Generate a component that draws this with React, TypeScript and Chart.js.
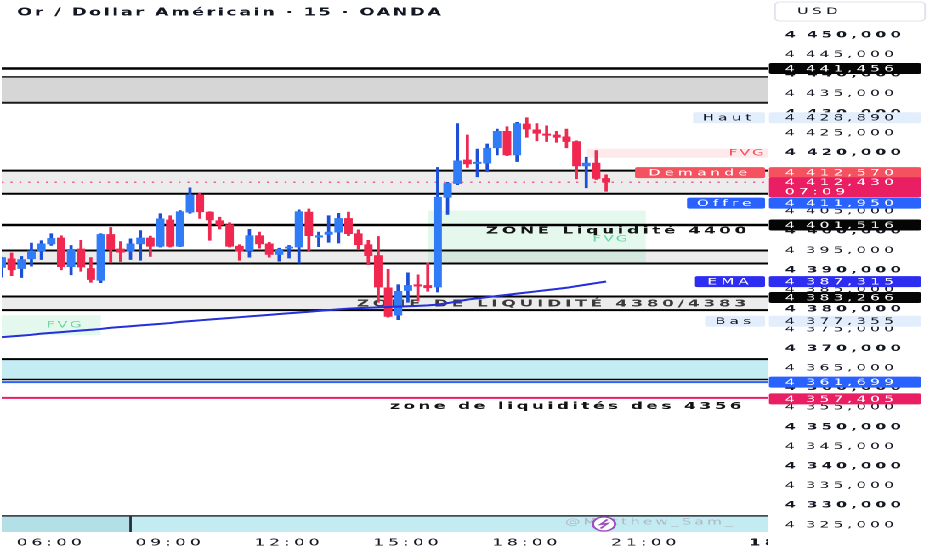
import React, { useEffect, useRef } from 'react';
import { Chart, registerables } from 'chart.js';

Chart.register(...registerables);

// the screenshot is squeezed vertically, so the chart is drawn narrow and stretched sideways
const STRETCH = 1.7;
const WIDTH = 932 / STRETCH;
const HEIGHT = 550;
const fx = (px: number) => px / STRETCH;
const FONT = '"DejaVu Sans", sans-serif';

const title = 'Or / Dollar Américain · 15 · OANDA';

// 15 minute bars
const firstBar = '04:45';
const barMinutes = 15;
const viewStart = '04:45';
const viewEnd = '24:05';

const opens = [
  4390.7, 4392.9, 4390.4, 4392.9, 4394.9, 4396.7, 4398.2, 4390.9, 4395.4, 4390.4,
  4387.4, 4399.1, 4395.4, 4394.8, 4396.7, 4398.2, 4396.1, 4402.8, 4396.1, 4404.8,
  4409.2, 4404.8, 4402.6, 4401.6, 4396.1, 4395.0, 4398.8, 4396.7, 4394.0, 4395.6,
  4395.9, 4404.8, 4398.4, 4399.1, 4399.7, 4403.2, 4399.3, 4396.5, 4393.7, 4385.5,
  4378.5, 4384.8, 4386.3, 4386.1, 4385.7, 4408.6, 4412.1, 4418.1, 4417.2, 4417.3,
  4421.2, 4425.4, 4419.4, 4427.3, 4425.8, 4424.7, 4424.5, 4424.0, 4422.8, 4416.6,
  4417.3, 4413.4,
];
const highs = [
  4393.3, 4394.4, 4393.5, 4396.9, 4397.5, 4399.3, 4398.8, 4396.3, 4397.6, 4393.2,
  4399.3, 4400.9, 4397.3, 4398.0, 4400.1, 4398.7, 4404.4, 4403.9, 4405.2, 4411.0,
  4409.7, 4404.9, 4403.5, 4402.1, 4396.5, 4400.4, 4399.7, 4397.1, 4395.6, 4396.3,
  4405.4, 4405.6, 4399.7, 4403.9, 4404.5, 4404.8, 4400.3, 4397.6, 4398.6, 4390.2,
  4386.3, 4389.3, 4388.8, 4391.8, 4416.2, 4412.4, 4427.4, 4424.5, 4420.9, 4422.2,
  4426.0, 4426.6, 4427.7, 4428.89, 4427.4, 4426.8, 4425.4, 4426.0, 4423.0, 4418.8,
  4420.5, 4414.3,
];
const lows = [
  4388.2, 4388.6, 4388.1, 4391.0, 4392.7, 4396.3, 4390.1, 4388.8, 4389.7, 4386.9,
  4386.8, 4391.9, 4392.2, 4392.7, 4392.5, 4393.5, 4395.9, 4395.9, 4396.0, 4404.5,
  4403.2, 4397.6, 4400.5, 4395.9, 4392.5, 4393.3, 4395.6, 4393.3, 4392.3, 4393.1,
  4391.8, 4395.0, 4396.0, 4397.1, 4396.9, 4398.8, 4395.2, 4391.4, 4381.8, 4378.0,
  4377.355, 4381.8, 4382.1, 4384.6, 4384.4, 4404.2, 4411.8, 4416.2, 4413.8, 4415.1,
  4419.4, 4419.2, 4417.7, 4423.9, 4423.0, 4422.8, 4422.6, 4421.2, 4413.3, 4411.0,
  4413.1, 4410.1,
];
const closes = [
  4393.2, 4390.1, 4392.7, 4394.9, 4396.7, 4398.1, 4390.9, 4395.3, 4390.8, 4387.6,
  4399.1, 4395.4, 4394.6, 4396.7, 4398.2, 4396.1, 4403.1, 4396.1, 4404.9, 4409.2,
  4404.9, 4402.8, 4401.6, 4396.1, 4394.8, 4398.8, 4396.7, 4394.0, 4395.3, 4395.9,
  4404.9, 4398.8, 4398.8, 4399.7, 4403.2, 4399.3, 4396.5, 4393.7, 4385.7, 4378.2,
  4384.6, 4386.1, 4385.9, 4385.5, 4408.6, 4412.1, 4417.9, 4417.1, 4417.5, 4421.1,
  4425.4, 4419.4, 4427.4, 4426.0, 4424.9, 4424.4, 4423.9, 4422.8, 4416.6, 4417.3,
  4413.4, 4412.43,
];
const ema = [
  4372.9, 4373.1, 4373.3, 4373.5, 4373.8, 4374.0, 4374.2, 4374.4, 4374.6, 4374.8,
  4375.0, 4375.3, 4375.5, 4375.7, 4375.9, 4376.1, 4376.3, 4376.5, 4376.8, 4377.0,
  4377.2, 4377.4, 4377.6, 4377.8, 4378.0, 4378.2, 4378.4, 4378.6, 4378.8, 4379.0,
  4379.2, 4379.4, 4379.6, 4379.8, 4380.0, 4380.2, 4380.3, 4380.4, 4380.5, 4380.6,
  4380.7, 4380.8, 4380.9, 4381.0, 4381.2, 4381.6, 4382.0, 4382.5, 4382.8, 4383.1,
  4383.4, 4383.7, 4384.0, 4384.3, 4384.6, 4384.9, 4385.2, 4385.5, 4385.9, 4386.3,
  4386.7, 4387.1,
];

const tickTimes = ['06:00', '09:00', '12:00', '15:00', '18:00', '21:00', '24:00'];
const tickLabels = ['06:00', '09:00', '12:00', '15:00', '18:00', '21:00', '18'];
const priceMin = 4323.2;
const priceMax = 4458.66;
const priceStep = 5;

// drawn levels and zones
const lastPrice = 4412.43;
const askPrice = 4412.57;
const bidPrice = 4411.95;
const countdown = '07:09';
const dayHigh = 4428.89;
const dayLow = 4377.355;
const emaLast = 4387.315;
const topLine = 4441.456;
const topZone = [4439.3, 4432.7];
const demandZone = [4415.4, 4409.5];
const line4400 = 4401.516;
const zone4400 = [4395.0, 4391.7];
const zone4380 = [4383.266, 4379.8];
const cyanZone = [4367.3, 4362.1];
const cyanLine = 4361.699;
const line4356 = 4357.405;
const stripTop = 4327.3;
const sessionBreak = '08:00';
const fvgMain = { from: '15:30', to: '21:00', top: 4405.2, bottom: 4392.0 };
const fvgLeft = { from: '04:45', to: '07:15', top: 4378.5, bottom: 4373.4 };
const fvgHigh = { from: '19:30', top: 4421.0, bottom: 4418.7 };

const toMin = (t: string) => {
  const [h, m] = t.split(':').map(Number);
  return h * 60 + m;
};
const times = opens.map((_, i) => toMin(firstBar) + i * barMinutes);

const fmtPrice = (v: number) => {
  const [int, dec] = v.toFixed(3).split('.');
  return int.slice(0, -3) + '\u2009' + int.slice(-3) + ',' + dec;
};

const UP = '#2f7cf6';
const DOWN = '#f0284f';
const UP_WICK = '#1d4fd6';
const DOWN_WICK = '#ee2a52';

const annotations = {
  id: 'annotations',
  beforeDraw(chart: any) {
    chart.ctx.letterSpacing = '2.4px';
  },
  beforeDatasetsDraw(chart: any) {
    const { ctx, chartArea: a, scales } = chart;
    const X = (t: string) => scales.x.getPixelForValue(toMin(t));
    const Y = (v: number) => scales.y.getPixelForValue(v);
    ctx.save();
    ctx.beginPath();
    ctx.rect(a.left, a.top, a.right - a.left, a.bottom - a.top);
    ctx.clip();

    const band = (top: number, bottom: number, color: string, x0 = a.left, x1 = a.right) => {
      ctx.fillStyle = color;
      ctx.fillRect(x0, Y(top), x1 - x0, Y(bottom) - Y(top));
    };
    const hline = (v: number, color: string, w: number, dash: number[] = [], shift = 0) => {
      ctx.strokeStyle = color;
      ctx.lineWidth = w;
      ctx.setLineDash(dash);
      ctx.beginPath();
      ctx.moveTo(a.left, Y(v) + shift);
      ctx.lineTo(a.right, Y(v) + shift);
      ctx.stroke();
      ctx.setLineDash([]);
    };
    const text = (s: string, x: number, y: number, color: string, font: string, align: CanvasTextAlign, ls: number) => {
      ctx.save();
      ctx.letterSpacing = ls + 'px';
      ctx.font = font;
      ctx.fillStyle = color;
      ctx.textAlign = align;
      ctx.textBaseline = 'middle';
      ctx.fillText(s, x, y);
      ctx.restore();
    };

    // bottom session strip
    band(stripTop, priceMin, '#b3e0e6', a.left, X(sessionBreak));
    band(stripTop, priceMin, '#c3ecf2', X(sessionBreak), a.right);
    hline(stripTop, '#2a2e39', 1.5);
    ctx.strokeStyle = '#2a2e39';
    ctx.lineWidth = 1.4;
    ctx.beginPath();
    ctx.moveTo(X(sessionBreak), Y(stripTop));
    ctx.lineTo(X(sessionBreak), a.bottom);
    ctx.stroke();

    // watermark
    const wy = (Y(stripTop) + a.bottom) / 2;
    text('@Matthew_Sam_', fx(565), wy - 2, '#b4b8c0', `9px ${FONT}`, 'left', 1.8);
    const cx = fx(604);
    ctx.fillStyle = '#ffffff';
    ctx.strokeStyle = '#9b4fc0';
    ctx.lineWidth = 1.4;
    ctx.beginPath();
    ctx.ellipse(cx, wy, 6.5, 7, 0, 0, Math.PI * 2);
    ctx.fill();
    ctx.stroke();
    ctx.beginPath();
    ctx.moveTo(cx + 2, wy - 4.5);
    ctx.lineTo(cx - 2, wy + 0.5);
    ctx.lineTo(cx + 2, wy - 0.5);
    ctx.lineTo(cx - 2, wy + 4.5);
    ctx.stroke();

    // zones
    band(topZone[0], topZone[1], '#d6d6d6');
    band(demandZone[0], demandZone[1], '#ececec');
    band(zone4400[0], zone4400[1], '#ececec');
    band(zone4380[0], zone4380[1], '#ececec');
    band(cyanZone[0], cyanZone[1], '#c4ecf3');
    band(fvgMain.top, fvgMain.bottom, 'rgba(120,220,170,0.2)', X(fvgMain.from), X(fvgMain.to));
    band(fvgLeft.top, fvgLeft.bottom, 'rgba(120,220,170,0.2)', X(fvgLeft.from), X(fvgLeft.to));
    band(fvgHigh.top, fvgHigh.bottom, 'rgba(242,54,69,0.11)', X(fvgHigh.from), a.right);

    // lines
    hline(topLine, '#000000', 2.5);
    hline(topZone[0], '#1a1a1a', 1.5);
    hline(topZone[1], '#1a1a1a', 2);
    hline(demandZone[0], '#000000', 2);
    hline(demandZone[1], '#000000', 2);
    hline(lastPrice, '#f06292', 1.5, [1.2, 4]);
    hline(line4400, '#000000', 2.5);
    hline(zone4400[0], '#000000', 2);
    hline(zone4400[1], '#000000', 2);
    hline(zone4380[0], '#000000', 2);
    hline(zone4380[1], '#000000', 2);
    hline(cyanZone[0], '#000000', 2);
    hline(cyanZone[1], '#000000', 1.5);
    hline(cyanLine, '#2962ff', 2, [], 1);
    hline(line4356, '#e91e63', 2);

    // zone captions
    const bold = `bold 10px ${FONT}`;
    text('ZONE Liquidité 4400', fx(750), Y(line4400) + 6, '#131313', bold, 'right', 2.1);
    text('ZONE DE LIQUIDITÉ 4380/4383', fx(750), (Y(zone4380[0]) + Y(zone4380[1])) / 2 + 0.5, '#3a3a3a', bold, 'right', 2.2);
    text('zone de liquidités des 4356', fx(745), Y(line4356) + 8.5, '#131313', bold, 'right', 2.0);
    const small = `9px ${FONT}`;
    text('FVG', fx(611), Y(line4400) + 14, '#66d9a0', small, 'center', 1.2);
    text('FVG', fx(65), (Y(fvgLeft.top) + Y(fvgLeft.bottom)) / 2, '#66d9a0', small, 'center', 1.2);
    text('FVG', fx(766), (Y(fvgHigh.top) + Y(fvgHigh.bottom)) / 2, '#f5505e', small, 'right', 1.2);
    ctx.restore();
  },
  afterDraw(chart: any) {
    const { ctx, chartArea: a, scales } = chart;
    const Y = (v: number) => scales.y.getPixelForValue(v);
    ctx.save();
    ctx.letterSpacing = '2.4px';
    ctx.textBaseline = 'middle';
    const font = `9px ${FONT}`;

    // clip the overflowing date label
    ctx.fillStyle = '#ffffff';
    ctx.fillRect(a.right, a.bottom, WIDTH - a.right, HEIGHT - a.bottom);

    const rrect = (x0: number, y0: number, w: number, h: number, color: string) => {
      ctx.fillStyle = color;
      ctx.beginPath();
      ctx.roundRect(x0, y0, w, h, 1.5);
      ctx.fill();
    };
    const badge = (yc: number, value: string, bg: string, fg: string, label?: string, labelLeft?: number) => {
      const h = 11;
      rrect(a.right + fx(1), yc - h / 2, fx(921) - a.right - fx(1), h, bg);
      ctx.font = font;
      ctx.fillStyle = fg;
      ctx.textAlign = 'left';
      ctx.fillText(value, a.right + fx(17), yc + 0.5);
      if (label && labelLeft) {
        rrect(fx(labelLeft), yc - h / 2, fx(765) - fx(labelLeft), h, bg);
        ctx.fillStyle = fg;
        ctx.textAlign = 'center';
        ctx.fillText(label, (fx(labelLeft) + fx(765)) / 2, yc + 0.5);
      }
    };

    badge(Y(topLine), fmtPrice(topLine), '#050505', '#ffffff');
    badge(Y(dayHigh), fmtPrice(dayHigh), '#e3eefc', '#131722', 'Haut', 693);
    badge(Y(askPrice) - 9, fmtPrice(askPrice), '#f4525f', '#ffffff', 'Demande', 635);
    // last price with bar countdown
    const top = Y(lastPrice) - 5;
    rrect(a.right + fx(1), top, fx(921) - a.right - fx(1), 20, '#e91e63');
    ctx.fillStyle = '#ffffff';
    ctx.textAlign = 'left';
    ctx.font = font;
    ctx.fillText(fmtPrice(lastPrice), a.right + fx(17), top + 5.5);
    ctx.fillText(countdown, a.right + fx(17), top + 15);
    badge(Y(bidPrice) + 19, fmtPrice(bidPrice), '#2962ff', '#ffffff', 'Offre', 687);
    badge(Y(line4400), fmtPrice(line4400), '#050505', '#ffffff');
    badge(Y(emaLast) + 1, fmtPrice(emaLast), '#2d2df2', '#ffffff', 'EMA', 695);
    badge(Y(zone4380[0]) + 1, fmtPrice(zone4380[0]), '#050505', '#ffffff');
    badge(Y(dayLow) + 1.5, fmtPrice(dayLow), '#e3eefc', '#131722', 'Bas', 705);
    badge(Y(cyanLine) + 1, fmtPrice(cyanLine), '#2962ff', '#ffffff');
    badge(Y(line4356) + 1, fmtPrice(line4356), '#e91e63', '#ffffff');

    // currency box
    ctx.fillStyle = '#ffffff';
    ctx.strokeStyle = '#e0e3eb';
    ctx.lineWidth = 1;
    ctx.beginPath();
    ctx.roundRect(fx(775), 2, fx(925) - fx(775), 19, 3);
    ctx.fill();
    ctx.stroke();
    ctx.fillStyle = '#131722';
    ctx.textAlign = 'left';
    ctx.fillText('USD', fx(797), 11.5);

    // title
    ctx.letterSpacing = '1.4px';
    ctx.font = `bold 10.5px ${FONT}`;
    ctx.textBaseline = 'alphabetic';
    ctx.fillText(title, fx(17), 15.5);
    ctx.restore();
  },
};

const App = () => {
  const canvasRef = useRef<HTMLCanvasElement | null>(null);
  const chartRef = useRef<any>(null);

  useEffect(() => {
    if (!canvasRef.current) return;
    if (chartRef.current) chartRef.current.destroy();

    const up = (i: number) => closes[i] >= opens[i];

    chartRef.current = new Chart(canvasRef.current, {
      type: 'bar',
      data: {
        datasets: [
          {
            type: 'line',
            label: 'EMA',
            data: ema.map((v, i) => ({ x: times[i], y: v })),
            borderColor: '#2430d9',
            borderWidth: 2,
            pointRadius: 0,
            order: 0,
          } as any,
          {
            label: 'body',
            data: times.map((t, i) => ({ x: t, y: [opens[i], closes[i]] })),
            backgroundColor: times.map((_, i) => (up(i) ? UP : DOWN)),
            barThickness: 4.3,
            minBarLength: 1.3,
            grouped: false,
            order: 1,
          },
          {
            label: 'wick',
            data: times.map((t, i) => ({ x: t, y: [lows[i], highs[i]] })),
            backgroundColor: times.map((_, i) => (up(i) ? UP_WICK : DOWN_WICK)),
            barThickness: 1.2,
            grouped: false,
            order: 2,
          },
        ],
      },
      options: {
        animation: false,
        responsive: true,
        maintainAspectRatio: false,
        devicePixelRatio: 2,
        layout: { padding: 0 },
        plugins: { legend: { display: false }, tooltip: { enabled: false } },
        scales: {
          x: {
            type: 'linear',
            offset: false,
            min: toMin(viewStart),
            max: toMin(viewEnd),
            grid: { display: false, drawTicks: false, tickLength: 0 },
            border: { display: false },
            afterBuildTicks: (axis: any) => {
              axis.ticks = tickTimes.map((t) => ({ value: toMin(t) }));
            },
            afterFit: (axis: any) => {
              axis.height = 18;
              axis.paddingLeft = 0;
              axis.paddingRight = 0;
            },
            ticks: {
              autoSkip: false,
              maxRotation: 0,
              padding: 5,
              color: '#131722',
              font: (c: any) => ({
                family: FONT,
                size: 10,
                weight: c.tick && c.tick.value === toMin('24:00') ? 'bold' : 'normal',
              }),
              callback: (value: any) => {
                const k = tickTimes.findIndex((t) => toMin(t) === value);
                return k >= 0 ? tickLabels[k] : '';
              },
            },
          },
          y: {
            type: 'linear',
            position: 'right',
            min: priceMin,
            max: priceMax,
            grid: { display: false, drawTicks: false, tickLength: 0 },
            border: { display: false },
            afterFit: (axis: any) => {
              axis.width = fx(932 - 768);
              axis.paddingTop = 0;
              axis.paddingBottom = 0;
            },
            ticks: {
              stepSize: priceStep,
              includeBounds: false,
              autoSkip: false,
              padding: fx(17),
              color: '#131722',
              font: (c: any) => ({
                family: FONT,
                size: 9,
                weight: c.tick && Math.round(c.tick.value) % 10 === 0 ? 'bold' : 'normal',
              }),
              callback: (v: any) => fmtPrice(Number(v)),
            },
          },
        },
      } as any,
      plugins: [annotations],
    });

    return () => {
      if (chartRef.current) {
        chartRef.current.destroy();
        chartRef.current = null;
      }
    };
  }, []);

  return (
    <div
      style={{
        position: 'fixed',
        left: 0,
        top: 0,
        width: WIDTH,
        height: HEIGHT,
        background: '#ffffff',
        transform: `scaleX(${STRETCH})`,
        transformOrigin: '0 0',
      }}
    >
      <canvas ref={canvasRef} />
    </div>
  );
};

export default App;
